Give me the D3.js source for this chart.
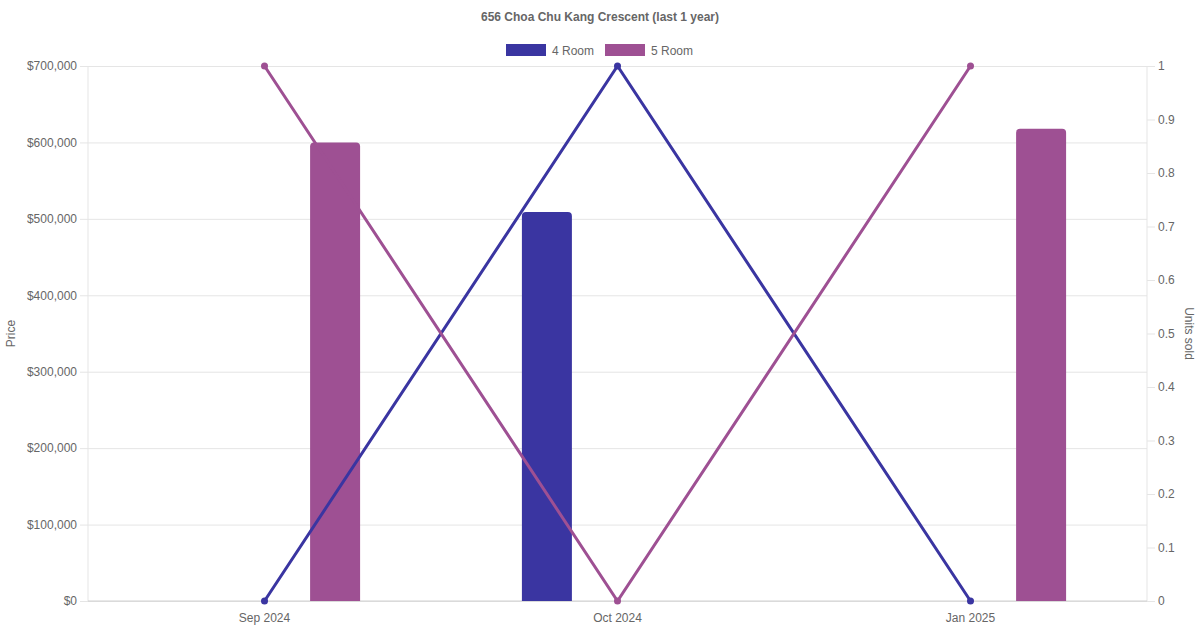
<!DOCTYPE html>
<html>
<head>
<meta charset="utf-8">
<script src="https://cdn.jsdelivr.net/npm/d3@7"></script>
<style>
  html, body { margin: 0; padding: 0; background: #fff; }
  text { font-family: "Liberation Sans", Arial, sans-serif; fill: #666; }
</style>
</head>
<body>
<svg id="chart" width="1200" height="630"></svg>
<script>
// data
var months = ["Sep 2024", "Oct 2024", "Jan 2025"];
var series = ["4 Room", "5 Room"];
var colors = ["#3a35a1", "#9e5093"];
var price4 = [null, 509000, null];
var price5 = [600000, null, 618000];
var units4 = [0, 1, 0];
var units5 = [1, 0, 1];
var priceTicks = [0, 100000, 200000, 300000, 400000, 500000, 600000, 700000];
var unitTicks = [0, 0.1, 0.2, 0.3, 0.4, 0.5, 0.6, 0.7, 0.8, 0.9, 1];

var prices = [price4, price5];
var units = [units4, units5];

var margin = {top: 66, right: 53, bottom: 29, left: 88},
    width = 1200 - margin.left - margin.right,
    height = 630 - margin.top - margin.bottom;

var svg = d3.select("#chart");

var x = d3.scaleBand().domain(months).range([0, width]).padding(0);
var xInner = d3.scaleBand().domain(series).range([x.bandwidth() * 0.1, x.bandwidth() * 0.9]);
var barW = Math.min(xInner.bandwidth() * 0.9, 50);

var yPrice = d3.scaleLinear().domain([0, 700000]).range([height, 0]);
var yUnits = d3.scaleLinear().domain([0, 1]).range([height, 0]);

// title
svg.append("text")
    .attr("x", 600).attr("y", 21)
    .attr("text-anchor", "middle")
    .style("font-size", "12px").style("font-weight", "bold")
    .text("656 Choa Chu Kang Crescent (last 1 year)");

// legend
var legend = svg.append("g").attr("transform", "translate(506,44)");
var legendX = [0, 99];
series.forEach(function (s, i) {
  var g = legend.append("g").attr("transform", "translate(" + legendX[i] + ",0)");
  g.append("rect").attr("width", 40).attr("height", 12).attr("fill", colors[i]);
  g.append("text").attr("x", 46).attr("y", 10.5)
      .style("font-size", "12px").text(s);
});

var g = svg.append("g").attr("transform", "translate(" + margin.left + "," + margin.top + ")");

// left axis with grid
var leftAxis = d3.axisLeft(yPrice)
    .tickValues(priceTicks)
    .tickSize(-width - 8)
    .tickPadding(3)
    .tickFormat(function (d) { return "$" + d3.format(",")(d); });
var gl = g.append("g").attr("transform", "translate(-8,0)").call(leftAxis);
gl.select(".domain").remove();
gl.selectAll(".tick line").attr("stroke", "#e5e5e5");
gl.selectAll(".tick text").attr("x", -3).style("font-size", "12px").style("fill", "#666");

// right axis ticks only
var rightAxis = d3.axisRight(yUnits)
    .tickValues(unitTicks)
    .tickSize(8)
    .tickPadding(3)
    .tickFormat(function (d) { return d3.format("~g")(d); });
var gr = g.append("g").attr("transform", "translate(" + width + ",0)").call(rightAxis);
gr.select(".domain").remove();
gr.selectAll(".tick line").attr("stroke", "#e5e5e5");
gr.selectAll(".tick text").style("font-size", "12px").style("fill", "#666");

// axis borders
g.append("line").attr("x1", 0).attr("x2", 0).attr("y1", 0).attr("y2", height).attr("stroke", "#e5e5e5");
g.append("line").attr("x1", width).attr("x2", width).attr("y1", 0).attr("y2", height).attr("stroke", "#e5e5e5");
g.append("line").attr("x1", 0).attr("x2", width).attr("y1", height).attr("y2", height).attr("stroke", "#d0d0d0");

// x axis labels
var bottomAxis = d3.axisBottom(x).tickSize(0).tickPadding(12);
var gb = g.append("g").attr("transform", "translate(0," + height + ")").call(bottomAxis);
gb.select(".domain").remove();
gb.selectAll(".tick text").style("font-size", "12px").style("fill", "#666");

// axis titles
svg.append("text")
    .attr("transform", "translate(15," + (margin.top + height / 2) + ") rotate(-90)")
    .attr("text-anchor", "middle")
    .style("font-size", "12px").text("Price");
svg.append("text")
    .attr("transform", "translate(1185," + (margin.top + height / 2) + ") rotate(90)")
    .attr("text-anchor", "middle")
    .style("font-size", "12px").text("Units sold");

// bars with rounded top corners
function barPath(x0, y0, w, h, r) {
  r = Math.min(r, h, w / 2);
  return "M" + x0 + "," + (y0 + h) +
    "V" + (y0 + r) +
    "Q" + x0 + "," + y0 + " " + (x0 + r) + "," + y0 +
    "H" + (x0 + w - r) +
    "Q" + (x0 + w) + "," + y0 + " " + (x0 + w) + "," + (y0 + r) +
    "V" + (y0 + h) + "Z";
}

series.forEach(function (s, si) {
  var rows = months.map(function (m, i) { return {m: m, v: prices[si][i]}; })
      .filter(function (d) { return d.v != null; });
  g.append("g").selectAll("path").data(rows).enter().append("path")
      .attr("fill", colors[si])
      .attr("d", function (d) {
        var cx = x(d.m) + xInner(s) + xInner.bandwidth() / 2;
        var top = yPrice(d.v);
        return barPath(cx - barW / 2, top, barW, height - top, 4);
      });
});

// lines on units axis
var line = d3.line()
    .x(function (d) { return x(d.m) + x.bandwidth() / 2; })
    .y(function (d) { return yUnits(d.v); });

series.forEach(function (s, si) {
  var rows = months.map(function (m, i) { return {m: m, v: units[si][i]}; });
  g.append("path").datum(rows)
      .attr("fill", "none")
      .attr("stroke", colors[si])
      .attr("stroke-width", 3)
      .attr("d", line);
  g.append("g").selectAll("circle").data(rows).enter().append("circle")
      .attr("cx", function (d) { return x(d.m) + x.bandwidth() / 2; })
      .attr("cy", function (d) { return yUnits(d.v); })
      .attr("r", 3.5)
      .attr("fill", colors[si]);
});
</script>
</body>
</html>
